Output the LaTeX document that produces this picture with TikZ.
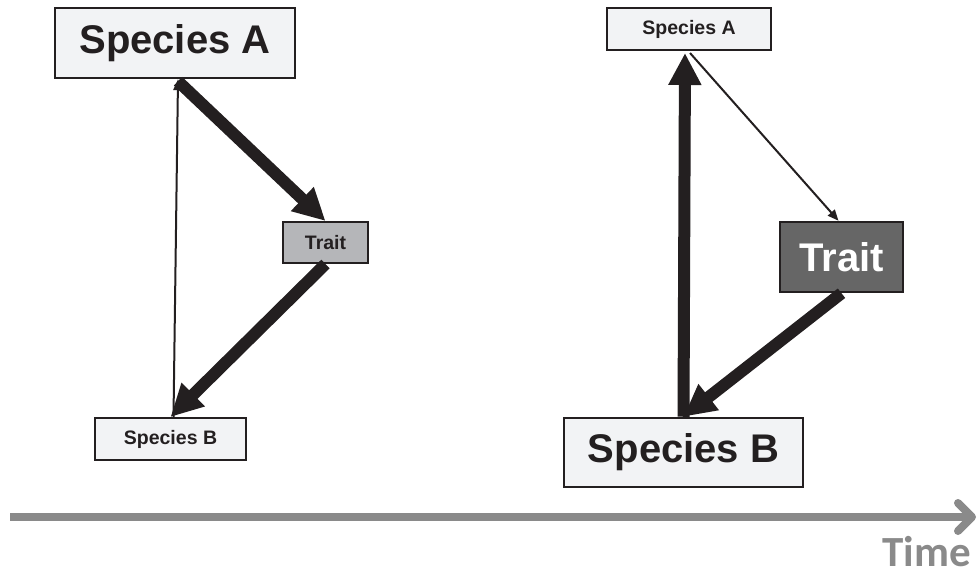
\documentclass[tikz,border=0pt]{standalone}
\usepackage{fontspec}
\setmainfont{Liberation Sans}
\newfontfamily\timefont{Carlito}
\usetikzlibrary{arrows.meta, calc}

\definecolor{ink}{HTML}{231F20}
\definecolor{paper}{HTML}{F2F3F5}
\definecolor{lighttrait}{HTML}{B5B6B9}
\definecolor{darktrait}{HTML}{666666}
\definecolor{timegrey}{HTML}{8A8A8A}

\begin{document}
\begin{tikzpicture}[node distance=200pt]
    \tikzstyle{bigbox} = [rectangle, draw=ink, line width=2.5pt, fill=paper, text=ink, inner sep=0pt, font=\fontsize{40}{44}\selectfont\bfseries]
    \tikzstyle{smallbox} = [rectangle, draw=ink, line width=2pt, fill=paper, text=ink, inner sep=0pt, font=\fontsize{19.5}{22}\selectfont\bfseries]
    \tikzstyle{strong} = [ink, line width=12pt, -{Triangle[length=32pt,width=31pt]}]
    \tikzstyle{weak} = [ink, line width=2pt, -{Triangle[length=11pt,width=9pt]}]
    \useasboundingbox (0,0) rectangle (980pt,-575pt);
    % Nodes
    \node (speciesAL) [bigbox, minimum width=240pt, minimum height=70pt] at (175pt,-43pt) {Species A};
    \node (traitL) [smallbox, fill=lighttrait, minimum width=85pt, minimum height=41pt, below of=speciesAL, xshift=150.5pt, yshift=0.5pt] {Trait};
    \node (speciesBL) [smallbox, minimum width=151pt, minimum height=42pt, below of=traitL, xshift=-155pt, yshift=3.5pt] {Species B};
    \node (speciesAR) [smallbox, minimum width=164pt, minimum height=42pt, right of=speciesAL, xshift=314pt, yshift=14pt] {Species A};
    \node (traitR) [bigbox, fill=darktrait, text=white, minimum width=123pt, minimum height=70pt, below of=speciesAR, xshift=152.5pt, yshift=-28pt] {Trait};
    \node (speciesBR) [bigbox, minimum width=239pt, minimum height=69pt, below of=traitR, xshift=-158pt, yshift=4.5pt] {Species B};
    % Arrows
    \draw [strong] ($(speciesAL.south)+(3pt,-2pt)$) -- (traitL.north);
    \draw [strong] (traitL.south) -- (speciesBL.north);
    \draw [weak] ($(speciesBL.north)+(3pt,0)$) -- ($(speciesAL.south)+(3pt,0)$);
    \draw [strong] (speciesBR.north) -- ($(speciesAR.south)+(-4pt,-2pt)$);
    \draw [weak] ($(speciesAR.south)+(1pt,-2pt)$) -- ($(traitR.north)+(-3pt,0)$);
    \draw [strong] (traitR.south) -- (speciesBR.north);
    % Time axis
    \coordinate (tstart) at (10pt,-517pt);
    \coordinate (tend) at (976pt,-517pt);
    \draw [timegrey, line width=8pt, -{Straight Barb[length=14pt,width=28pt,round]}] (tstart) -- (tend);
    \node (time) [anchor=base east, inner sep=0pt, text=timegrey, font=\timefont\fontsize{43}{43}\selectfont\bfseries] at (971pt,-566pt) {Time};
\end{tikzpicture}
\end{document}
